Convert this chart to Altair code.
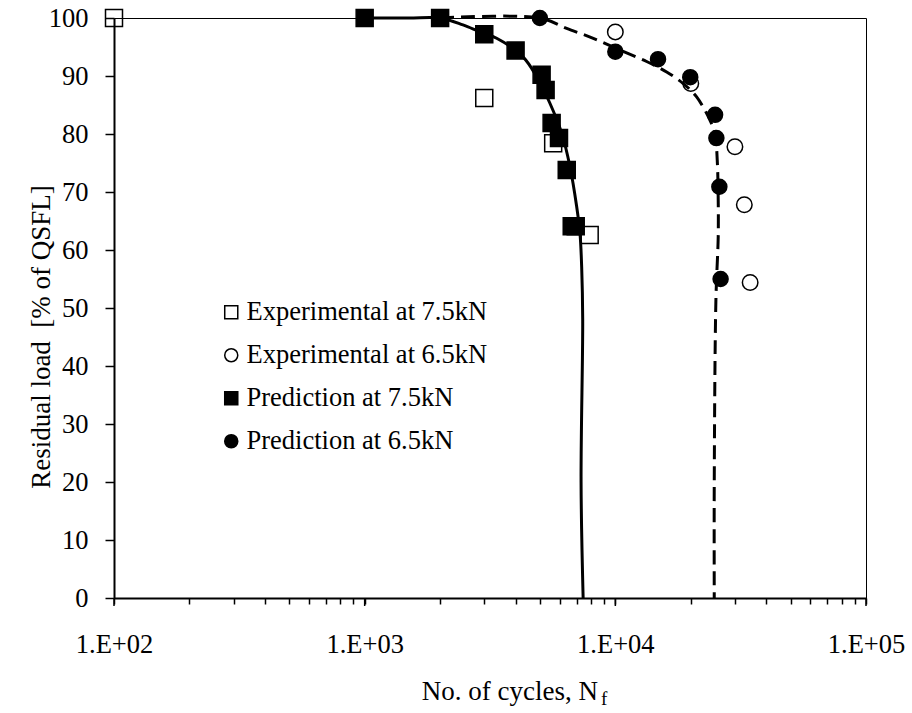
import altair as alt
import pandas as pd

# ---- data ----
series_names = ["Experimental at 7.5kN", "Experimental at 6.5kN",
                "Prediction at 7.5kN", "Prediction at 6.5kN"]

exp75_N = [100, 3000, 5650, 7900]
exp75_R = [100, 86.2, 78.4, 62.6]

exp65_N = [10000, 20000, 30000, 32700, 34500]
exp65_R = [97.6, 88.7, 77.8, 67.8, 54.4]

pred75_N = [1000, 2000, 3000, 4000, 5080, 5270, 5570, 5960, 6400, 6700, 6950]
pred75_R = [100, 100, 97.2, 94.4, 90.2, 87.6, 81.9, 79.3, 73.8, 64.1, 64.1]

pred65_N = [5000, 10000, 14800, 19900, 25000, 25300, 26000, 26300]
pred65_R = [100, 94.2, 92.9, 89.8, 83.3, 79.3, 70.9, 55.0]

curve75_N = [1000, 1500, 2000, 2466, 2884, 3362, 4280, 4853, 5483, 6105, 6590, 7010, 7226, 7340, 7410, 7300, 7440]
curve75_R = [100, 100, 100, 98.8, 97.6, 96.5, 93.3, 89.9, 85.3, 80.2, 74.4, 67.5, 62.9, 57.1, 48.0, 20.0, 0]

curve65_N = [2000, 5003, 6394, 8166, 10433, 13330, 16020, 18660, 21100, 23850, 24970, 25500, 25730, 25730, 25190, 24810, 24810]
curve65_R = [100, 100, 98.2, 96.5, 94.5, 92.5, 90.7, 88.7, 86.4, 82.4, 80.1, 75.5, 68.6, 62.3, 51.4, 19.8, 0]

decades = [100, 1000, 10000, 100000]
x_ticks = [d * k for d in [100, 1000, 10000] for k in range(1, 10)] + [100000]
y_ticks = list(range(0, 101, 10))

FONT = "Liberation Serif"
W, H = 752, 580


def pts(N, R, name):
    return pd.DataFrame({"N": N, "R": R, "series": [name] * len(N)})


def curve(N, R):
    return pd.DataFrame({"N": N, "R": R, "i": list(range(len(N)))})


x_scale = alt.Scale(type="log", domain=[100, 100000], nice=False)
y_scale = alt.Scale(domain=[0, 100], nice=False)

x_axis = alt.Axis(values=x_ticks,
                  labelExpr="datum.value == 100 ? '1.E+02' : datum.value == 1000 ? '1.E+03' : "
                            "datum.value == 10000 ? '1.E+04' : datum.value == 100000 ? '1.E+05' : ''",
                  title=None, tickSize=6, tickWidth=1.5, tickColor="black",
                  domainColor="black", domainWidth=2, labelFont=FONT, labelFontSize=26.5,
                  labelColor="black", labelPadding=27, grid=False, labelFlush=False,
                  labelOverlap=False, labelBound=False)
y_axis = alt.Axis(values=y_ticks, title=None, tickSize=9, tickWidth=1.5, tickColor="black",
                  domainColor="black", domainWidth=2, labelFont=FONT, labelFontSize=26.5,
                  labelColor="black", labelPadding=17, grid=False, labelFlush=False)

legend = alt.Legend(title=None, orient="none", legendX=104, legendY=281, labelFont=FONT,
                    labelFontSize=26.5, labelColor="black", symbolSize=170,
                    symbolStrokeWidth=1.5, rowPadding=16, labelOffset=2, padding=0,
                    labelLimit=500)

shape_enc = alt.Shape("series:N", scale=alt.Scale(domain=series_names,
                      range=["square", "circle", "square", "circle"]), legend=legend)
fill_enc = alt.Fill("series:N", scale=alt.Scale(domain=series_names,
                    range=["transparent", "transparent", "black", "black"]), legend=legend)
stroke_enc = alt.Stroke("series:N", scale=alt.Scale(domain=series_names,
                        range=["black", "black", "black", "black"]), legend=legend)


def point_layer(df, size):
    return alt.Chart(df).mark_point(size=size, strokeWidth=1.5, opacity=1, fillOpacity=1).encode(
        x=alt.X("N:Q", scale=x_scale, axis=x_axis),
        y=alt.Y("R:Q", scale=y_scale, axis=y_axis),
        shape=shape_enc, fill=fill_enc, stroke=stroke_enc)


open_sq = point_layer(pts(exp75_N, exp75_R, series_names[0]), 289)
open_ci = point_layer(pts(exp65_N, exp65_R, series_names[1]), 240)
fill_sq = point_layer(pts(pred75_N, pred75_R, series_names[2]), 289)
fill_ci = point_layer(pts(pred65_N, pred65_R, series_names[3]), 225)

line75 = alt.Chart(curve(curve75_N, curve75_R)).mark_line(
    color="black", strokeWidth=3, interpolate="catmull-rom").encode(
    x=alt.X("N:Q", scale=x_scale, axis=x_axis),
    y=alt.Y("R:Q", scale=y_scale, axis=y_axis),
    order="i:Q")
line65 = alt.Chart(curve(curve65_N, curve65_R)).mark_line(
    color="black", strokeWidth=3, strokeDash=[14, 7], interpolate="catmull-rom").encode(
    x=alt.X("N:Q", scale=x_scale, axis=x_axis),
    y=alt.Y("R:Q", scale=y_scale, axis=y_axis),
    order="i:Q")

major_ticks = alt.Chart(pd.DataFrame({"N": decades})).mark_rule(
    color="black", strokeWidth=1.5).encode(
    x=alt.X("N:Q", scale=x_scale, axis=x_axis),
    y=alt.value(H), y2=alt.value(H + 8))

one = pd.DataFrame({"k": [0]})
y_title = alt.Chart(one).mark_text(
    text="Residual load\u00a0 [% of QSFL]", angle=270, font=FONT, fontSize=27,
    align="center", baseline="alphabetic", color="black").encode(
    x=alt.value(-64), y=alt.value(319))
x_title = alt.Chart(one).mark_text(
    text="No. of cycles, N", font=FONT, fontSize=27, align="right",
    baseline="alphabetic", color="black").encode(
    x=alt.value(484), y=alt.value(682))
x_title_sub = alt.Chart(one).mark_text(
    text="f", font=FONT, fontSize=19, align="left",
    baseline="alphabetic", color="black").encode(
    x=alt.value(487), y=alt.value(687))

chart = alt.layer(
    open_sq, open_ci, line75, line65, fill_sq, fill_ci, major_ticks,
    y_title, x_title, x_title_sub
).properties(
    width=W, height=H,
    autosize=alt.AutoSizeParams(type="none"),
    padding={"left": 114, "top": 18, "right": 46, "bottom": 115},
    background="white"
).configure_view(stroke="black", strokeWidth=1)

chart.save("out.html", embed_options={"renderer": "svg", "actions": False})
